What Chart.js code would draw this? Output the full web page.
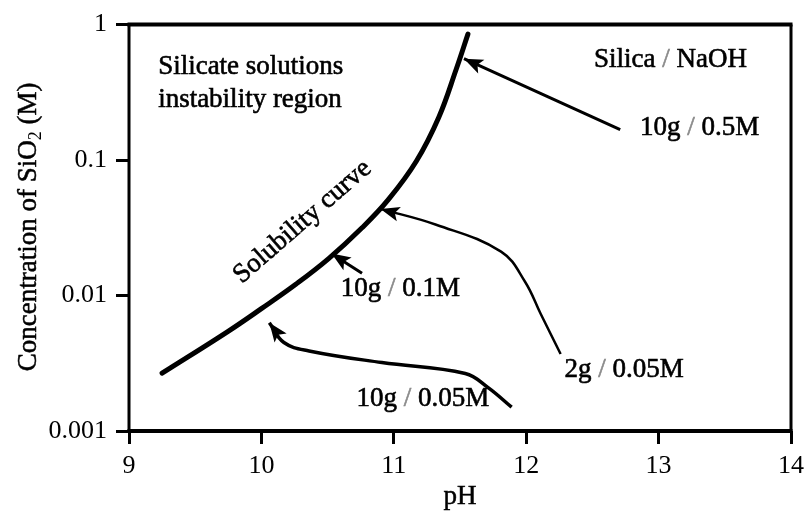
<!DOCTYPE html>
<html><head><meta charset="utf-8">
<script src="https://cdn.jsdelivr.net/npm/chart.js@4/dist/chart.umd.min.js"></script>
<style>html,body{margin:0;padding:0;background:#fff}#wrap{width:811px;height:513px;position:relative}</style>
</head><body><div id="wrap"><canvas id="c"></canvas></div>
<script>
// ---- data ----
const solubilityPH   = [9.25, 9.74, 10.0, 10.26, 10.51, 10.76, 10.96, 11.17, 11.34, 11.47, 11.56];
const solubilitySiO2 = [0.00267, 0.00537, 0.0080, 0.0121, 0.0188, 0.0316, 0.0512, 0.098, 0.207, 0.464, 0.85];

const path05MpH   = [12.71, 11.53];
const path05MSiO2 = [0.168, 0.56];
const path2gpH    = [12.26, 12.11, 11.99, 11.81, 11.32, 10.90];
const path2gSiO2  = [0.0037, 0.0073, 0.0127, 0.0211, 0.0333, 0.0436];
const path01MpH   = [10.76, 10.53];
const path01MSiO2 = [0.0146, 0.0204];
const path005MpH  = [11.89, 11.71, 11.54, 10.91, 10.36, 10.17, 10.06];
const path005MSiO2= [0.0015, 0.0021, 0.00266, 0.0032, 0.0039, 0.0045, 0.0063];

const xTickValues = [9, 10, 11, 12, 13, 14];
const yTickValues = [1, 0.1, 0.01, 0.001];
const yTickLabels = ['1', '0.1', '0.01', '0.001'];

const annotationTexts = ['Silicate solutions', 'instability region', 'Silica / NaOH', '10g / 0.5M',
                         '10g / 0.1M', '2g / 0.05M', '10g / 0.05M', 'Solubility curve'];
const xTitle = 'pH';
const yTitleParts = ['Concentration of SiO', '2', ' (M)'];

// ---- build chart ----
const pts = (xs, ys) => xs.map((x, i) => ({x, y: ys[i]}));

// annotation placement (data coordinates)
const annotationPlacement = [
  {x: 9.22, y: 0.485, align: 'left', rot: 0},
  {x: 9.22, y: 0.278, align: 'left', rot: 0},
  {x: 13.09, y: 0.545, align: 'center', rot: 0},
  {x: 13.31, y: 0.173, align: 'center', rot: 0},
  {x: 11.05, y: 0.0111, align: 'center', rot: 0},
  {x: 12.74, y: 0.00284, align: 'center', rot: 0},
  {x: 11.22, y: 0.00174, align: 'center', rot: 0},
  {x: 10.31, y: 0.035, align: 'center', rot: -41}
];

Chart.defaults.font.family = "'Liberation Serif', 'Times New Roman', serif";
Chart.defaults.font.size = 26;
Chart.defaults.color = '#000';

function drawMixed(ctx, text, x, y, align) {
  let parts;
  const i = text.indexOf(' / ');
  if (i >= 0) parts = [[text.slice(0, i) + ' ', '#000'], ['/', '#8a8a8a'], [' ' + text.slice(i + 3), '#000']];
  else parts = [[text, '#000']];
  const total = parts.reduce((s, p) => s + ctx.measureText(p[0]).width, 0);
  let cx = align === 'center' ? x - total / 2 : x;
  ctx.textAlign = 'left';
  ctx.lineWidth = 0.6;
  for (const p of parts) {
    ctx.fillStyle = p[1];
    ctx.strokeStyle = p[1];
    ctx.fillText(p[0], cx, y);
    ctx.strokeText(p[0], cx, y);
    cx += ctx.measureText(p[0]).width;
  }
}

const decorPlugin = {
  id: 'decor',
  afterDatasetsDraw(chart) {
    const ctx = chart.ctx, xs = chart.scales.x, ys = chart.scales.y, a = chart.chartArea;
    // arrowheads at the last point of each arrow dataset
    chart.data.datasets.forEach((ds, di) => {
      if (!ds.arrow) return;
      const meta = chart.getDatasetMeta(di);
      const n = meta.data.length;
      const tip = meta.data[n - 1], prev = meta.data[n - 2];
      const ang = Math.atan2(tip.y - prev.y, tip.x - prev.x);
      const L = 19, W = 7.5;
      ctx.save();
      ctx.translate(tip.x, tip.y);
      ctx.rotate(ang);
      ctx.beginPath();
      ctx.moveTo(0, 0);
      ctx.lineTo(-L, -W);
      ctx.lineTo(-L * 0.78, 0);
      ctx.lineTo(-L, W);
      ctx.closePath();
      ctx.fillStyle = '#000';
      ctx.fill();
      ctx.restore();
    });
    // frame
    ctx.save();
    ctx.strokeStyle = '#000';
    ctx.lineWidth = 3;
    ctx.beginPath();
    ctx.moveTo(a.left, a.top); ctx.lineTo(a.left, a.bottom);
    ctx.moveTo(a.right, a.top); ctx.lineTo(a.right, a.bottom);
    ctx.stroke();
    ctx.lineWidth = 4;
    ctx.beginPath();
    ctx.moveTo(a.left - 1.5, a.top); ctx.lineTo(a.right + 1.5, a.top);
    ctx.moveTo(a.left - 1.5, a.bottom); ctx.lineTo(a.right + 1.5, a.bottom);
    ctx.stroke();
    // annotations
    ctx.font = "27px 'Liberation Serif', serif";
    ctx.textBaseline = 'middle';
    annotationTexts.forEach((t, k) => {
      const p = annotationPlacement[k];
      const px = xs.getPixelForValue(p.x), py = ys.getPixelForValue(p.y);
      ctx.save();
      ctx.translate(px, py);
      ctx.rotate(p.rot * Math.PI / 180);
      drawMixed(ctx, t, 0, 0, p.align);
      ctx.restore();
    });
    // axis titles
    ctx.fillStyle = '#000';
    ctx.strokeStyle = '#000';
    ctx.lineWidth = 0.5;
    ctx.textAlign = 'center';
    ctx.fillText(xTitle, (a.left + a.right) / 2, 497);
    ctx.strokeText(xTitle, (a.left + a.right) / 2, 497);
    ctx.save();
    ctx.translate(29, (a.top + a.bottom) / 2 - 1);
    ctx.rotate(-Math.PI / 2);
    const big = "27px 'Liberation Serif', serif", small = "18px 'Liberation Serif', serif";
    ctx.font = big; const w0 = ctx.measureText(yTitleParts[0]).width, w2 = ctx.measureText(yTitleParts[2]).width;
    ctx.font = small; const w1 = ctx.measureText(yTitleParts[1]).width;
    let cx = -(w0 + w1 + w2) / 2;
    ctx.textAlign = 'left';
    ctx.font = big; ctx.fillText(yTitleParts[0], cx, 0); ctx.strokeText(yTitleParts[0], cx, 0); cx += w0;
    ctx.font = small; ctx.fillText(yTitleParts[1], cx, 7); cx += w1;
    ctx.font = big; ctx.fillText(yTitleParts[2], cx, 0); ctx.strokeText(yTitleParts[2], cx, 0);
    ctx.restore();
    ctx.restore();
  }
};

const arrowStyle = (w) => ({borderColor: '#000', borderWidth: w, pointRadius: 0, showLine: true, tension: 0.4, fill: false, arrow: true});

new Chart(document.getElementById('c'), {
  type: 'scatter',
  data: {
    datasets: [
      {label: 'Solubility curve', data: pts(solubilityPH, solubilitySiO2), borderColor: '#000', borderWidth: 5,
       pointRadius: 0, showLine: true, tension: 0.4, fill: false, borderCapStyle: 'round'},
      Object.assign({label: '10g / 0.5M', data: pts(path05MpH, path05MSiO2)}, arrowStyle(3)),
      Object.assign({label: '2g / 0.05M', data: pts(path2gpH, path2gSiO2)}, arrowStyle(2.5)),
      Object.assign({label: '10g / 0.1M', data: pts(path01MpH, path01MSiO2)}, arrowStyle(3)),
      Object.assign({label: '10g / 0.05M', data: pts(path005MpH, path005MSiO2)}, arrowStyle(3.5))
    ]
  },
  options: {
    responsive: true,
    maintainAspectRatio: false,
    animation: false,
    layout: {padding: {left: 0, top: 21, right: 17, bottom: 0}},
    plugins: {legend: {display: false}, tooltip: {enabled: false}},
    scales: {
      x: {
        type: 'linear', min: 9, max: 14,
        afterFit: s => { s.height = 82; },
        afterBuildTicks: s => { s.ticks = xTickValues.map(v => ({value: v})); },
        ticks: {padding: 7, font: {size: 26}, color: '#000'},
        grid: {drawOnChartArea: false, drawTicks: true, tickLength: 13, tickWidth: 3, tickColor: '#000'},
        border: {display: false}
      },
      y: {
        type: 'logarithmic', min: 0.001, max: 1,
        afterFit: s => { s.width = 129; },
        afterBuildTicks: s => { s.ticks = yTickValues.map(v => ({value: v})); },
        ticks: {padding: 9, font: {size: 26}, color: '#000',
                callback: v => { const i = yTickValues.indexOf(v); return i >= 0 ? yTickLabels[i] : ''; }},
        grid: {drawOnChartArea: false, drawTicks: true, tickLength: 13, tickWidth: 3, tickColor: '#000'},
        border: {display: false}
      }
    }
  },
  plugins: [decorPlugin]
});
</script>
</body></html>
